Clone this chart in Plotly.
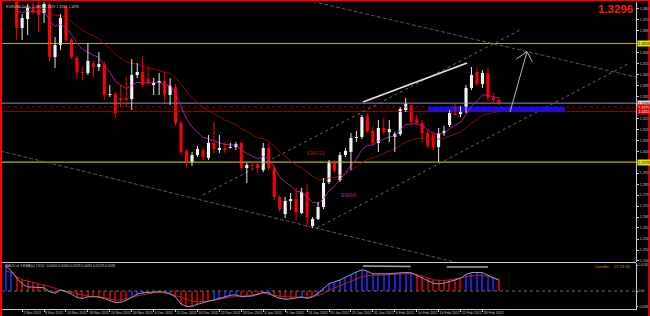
import plotly.graph_objects as go

# ---------------- data ----------------
bar_idx = list(range(91))
opens = [1.4150, 1.4140, 1.3862, 1.3702, 1.3750, 1.3815, 1.3826, 1.3783, 1.3831, 1.3545,
         1.3610, 1.3815, 1.3637, 1.3540, 1.3464, 1.3459, 1.3513, 1.3491, 1.3507, 1.3340,
         1.3345, 1.3324, 1.3324, 1.3318, 1.3448, 1.3464, 1.3426, 1.3399, 1.3405, 1.3416,
         1.3340, 1.3383, 1.3189, 1.3038, 1.2978, 1.3016, 1.3043, 1.3000, 1.3081, 1.3046,
         1.3054, 1.3054, 1.3059, 1.3081, 1.2946, 1.2962, 1.2967, 1.2935, 1.3054, 1.2946,
         1.2789, 1.2697, 1.2768, 1.2778, 1.2703, 1.2816, 1.2633, 1.2670, 1.2735, 1.2870,
         1.2973, 1.2881, 1.3016, 1.3032, 1.3108, 1.3113, 1.3227, 1.3146, 1.3081, 1.3162,
         1.3140, 1.3113, 1.3129, 1.3259, 1.3286, 1.3210, 1.3189, 1.3135, 1.3124, 1.3059,
         1.3135, 1.3178, 1.3243, 1.3237, 1.3248, 1.3378, 1.3464, 1.3399, 1.3459, 1.3324,
         1.3313]
highs = [1.4175, 1.4150, 1.3870, 1.3777, 1.3831, 1.3842, 1.3848, 1.3870, 1.3860, 1.3653,
         1.3777, 1.3821, 1.3648, 1.3551, 1.3491, 1.3621, 1.3524, 1.3572, 1.3518, 1.3394,
         1.3356, 1.3394, 1.3437, 1.3534, 1.3513, 1.3551, 1.3491, 1.3432, 1.3459, 1.3464,
         1.3432, 1.3399, 1.3200, 1.3048, 1.3032, 1.3065, 1.3059, 1.3124, 1.3194, 1.3124,
         1.3086, 1.3081, 1.3086, 1.3086, 1.2973, 1.2978, 1.2978, 1.3081, 1.3081, 1.2962,
         1.2800, 1.2789, 1.2811, 1.2838, 1.2838, 1.2859, 1.2681, 1.2762, 1.2892, 1.2989,
         1.2989, 1.3032, 1.3054, 1.3135, 1.3146, 1.3232, 1.3243, 1.3167, 1.3205, 1.3216,
         1.3205, 1.3140, 1.3275, 1.3324, 1.3297, 1.3232, 1.3205, 1.3151, 1.3146, 1.3162,
         1.3173, 1.3259, 1.3297, 1.3281, 1.3394, 1.3491, 1.3480, 1.3475, 1.3486, 1.3351,
         1.3329]
lows = [1.4090, 1.3858, 1.3637, 1.3637, 1.3664, 1.3777, 1.3680, 1.3729, 1.3524, 1.3486,
        1.3583, 1.3626, 1.3534, 1.3426, 1.3421, 1.3448, 1.3437, 1.3470, 1.3313, 1.3329,
        1.3216, 1.3275, 1.3275, 1.3259, 1.3432, 1.3383, 1.3394, 1.3340, 1.3340, 1.3297,
        1.3286, 1.3173, 1.3016, 1.2951, 1.2957, 1.3005, 1.2989, 1.2989, 1.3027, 1.3027,
        1.3027, 1.3051, 1.3043, 1.2935, 1.2865, 1.2935, 1.2919, 1.2924, 1.2935, 1.2773,
        1.2708, 1.2676, 1.2719, 1.2665, 1.2697, 1.2627, 1.2622, 1.2665, 1.2724, 1.2859,
        1.2919, 1.2870, 1.3005, 1.2935, 1.3086, 1.3102, 1.3135, 1.3070, 1.3032, 1.3124,
        1.3086, 1.3032, 1.3119, 1.3248, 1.3183, 1.3178, 1.3086, 1.3054, 1.3043, 1.2978,
        1.3119, 1.3167, 1.3232, 1.3221, 1.3243, 1.3367, 1.3389, 1.3378, 1.3308, 1.3291,
        1.3286]
closes = [1.4140, 1.3862, 1.3702, 1.3756, 1.3815, 1.3788, 1.3772, 1.3831, 1.3545, 1.3610,
          1.3756, 1.3637, 1.3545, 1.3464, 1.3459, 1.3524, 1.3491, 1.3507, 1.3340, 1.3345,
          1.3243, 1.3316, 1.3313, 1.3448, 1.3464, 1.3394, 1.3405, 1.3405, 1.3416, 1.3345,
          1.3389, 1.3189, 1.3032, 1.2978, 1.3016, 1.3048, 1.3005, 1.3081, 1.3048, 1.3048,
          1.3043, 1.3059, 1.3075, 1.2946, 1.2962, 1.2957, 1.2946, 1.3054, 1.2946, 1.2789,
          1.2724, 1.2768, 1.2778, 1.2708, 1.2816, 1.2681, 1.2670, 1.2735, 1.2865, 1.2973,
          1.2930, 1.3016, 1.3038, 1.3108, 1.3113, 1.3221, 1.3146, 1.3081, 1.3162, 1.3140,
          1.3156, 1.3129, 1.3264, 1.3291, 1.3194, 1.3189, 1.3135, 1.3065, 1.3059, 1.3135,
          1.3146, 1.3243, 1.3235, 1.3254, 1.3378, 1.3448, 1.3399, 1.3459, 1.3324, 1.3313,
          1.3296]

macd_main = [0.01375, 0.0110, 0.00715, 0.00385, 0.00231, 0.00204, 0.00204, 0.00176, -0.00028, -0.00127,
             0.00055, -0.00028, -0.00165, -0.00358, -0.00413, -0.00314, -0.00314, -0.00341, -0.00413, -0.00523,
             -0.00638, -0.00622, -0.00512, -0.00347, -0.00165, -0.00099, -0.00066, -0.00039, -0.00039, -0.00061,
             -0.00154, -0.0033, -0.00715, -0.00858, -0.00836, -0.00732, -0.00633, -0.00561, -0.00495, -0.00413,
             -0.00336, -0.00237, -0.00209, -0.00314, -0.00292, -0.00275, -0.00182, -0.00072, -0.0011, -0.00292,
             -0.00402, -0.00451, -0.00429, -0.00363, -0.00325, -0.00402, -0.00325, -0.00121, 0.00165, 0.00402,
             0.00506, 0.00605, 0.00754, 0.00908, 0.01045, 0.01166, 0.01084, 0.00946, 0.00935, 0.00935,
             0.00946, 0.00979, 0.01007, 0.01018, 0.01001, 0.00869, 0.00737, 0.00572, 0.00424, 0.00391,
             0.0044, 0.00506, 0.00605, 0.0071, 0.00908, 0.01018, 0.01034, 0.01012, 0.00869, 0.00715,
             0.00589]
macd_signal = [0.01111, 0.01007, 0.00792, 0.00622, 0.00545, 0.00479, 0.00418, 0.00352, 0.00248, 0.00149,
               0.0005, -0.00017, -0.00072, -0.00143, -0.0022, -0.00281, -0.00297, -0.00308, -0.00374, -0.00446,
               -0.00495, -0.0049, -0.00435, -0.00363, -0.0027, -0.00198, -0.00138, -0.00094, -0.00094, -0.00094,
               -0.00165, -0.00242, -0.00336, -0.0044, -0.00561, -0.00589, -0.00589, -0.00556, -0.00506, -0.00446,
               -0.00385, -0.00341, -0.00308, -0.00292, -0.00275, -0.00226, -0.00176, -0.00127, -0.00187, -0.00248,
               -0.00286, -0.00314, -0.00336, -0.00352, -0.00363, -0.00363, -0.00303, -0.00242, -0.00127, 0.00028,
               0.00176, 0.00286, 0.00396, 0.00528, 0.0066, 0.00792, 0.00847, 0.0088, 0.0088, 0.0088,
               0.00891, 0.00913, 0.00935, 0.00957, 0.00963, 0.00913, 0.00836, 0.00726, 0.00611, 0.00583,
               0.00572, 0.00616, 0.0066, 0.00715, 0.00781, 0.00831, 0.0088, 0.00858, 0.00814, 0.00699,
               0.00649]

date_tick_idx = [-1, 3, 7, 11, 15, 19, 23, 27, 31, 35, 39, 43, 47, 51, 55, 59, 63, 67, 71, 75, 79, 83, 87]
date_tick_text = ["27 Oct 2011", "2 Nov 2011", "8 Nov 2011", "14 Nov 2011", "18 Nov 2011", "24 Nov 2011",
                  "30 Nov 2011", "6 Dec 2011", "12 Dec 2011", "16 Dec 2011", "22 Dec 2011", "28 Dec 2011",
                  "3 Jan 2012", "9 Jan 2012", "13 Jan 2012", "19 Jan 2012", "25 Jan 2012", "31 Jan 2012",
                  "6 Feb 2012", "10 Feb 2012", "16 Feb 2012", "22 Feb 2012", "28 Feb 2012"]
price_ticks = [1.2444, 1.2503, 1.2562, 1.2622, 1.2681, 1.2740, 1.2799, 1.2858, 1.2918,
               1.3036, 1.3095, 1.3154, 1.3214, 1.3332, 1.3391, 1.3450, 1.3510, 1.3569,
               1.3687, 1.3746, 1.3806]
macd_ticks = [0.0143, 0.0, -0.0085]
macd_tick_text = ["0.0143", "0.00", "-0.0085"]

ema8_seed = 1.3820
ema21_seed = 1.3830
ema_start = 2

# user-drawn objects (bar index, price)
lower_dash_x, lower_dash_y = [-1.04, 84.73], [1.3038, 1.2418]
upper_dash_x, upper_dash_y = [56.0, 115.02], [1.3845, 1.3437]
chan1_x, chan1_y = [36.0, 93.85], [1.2800, 1.3691]
chan2_x, chan2_y = [56.8, 113.92], [1.2622, 1.3513]
white_x, white_y = [65.2, 84.18], [1.3302, 1.3513]
arrow_x, arrow_y = [92.03, 95.13], [1.3248, 1.3574]
head_x, head_y = [93.12, 95.13, 96.09], [1.3533, 1.3574, 1.3520]
zone_x, zone_y = [77.06, 102.06], [1.32645, 1.32645]
level_yellow = [1.3618, 1.2978]
level_bid = 1.3296
level_red_dot = 1.3275
level_red = 1.3251
div1_x, div1_y = [65.2, 73.9], [0.01375, 0.0135]
div2_x, div2_y = [80.5, 88.0], [0.0132, 0.0132]

# ---------------- figure ----------------
X0, X1 = -0.675, 115.02
FONT = "Liberation Sans, Arial, sans-serif"


def ema(vals, period, seed, start):
    a = 2.0 / (period + 1)
    out = [None] * start
    prev = seed
    for v in vals[start:]:
        prev = prev + a * (v - prev)
        out.append(prev)
    return out


ema8 = ema(closes, 8, ema8_seed, ema_start)
ema21 = ema(closes, 21, ema21_seed, ema_start)

fig = go.Figure()

# horizontal levels
for lv in level_yellow:
    fig.add_trace(go.Scatter(x=[X0, X1], y=[lv, lv], mode="lines",
                             line=dict(color="#b4b400", width=1.2), hoverinfo="skip"))
fig.add_trace(go.Scatter(x=[X0, X1], y=[level_bid, level_bid], mode="lines",
                         line=dict(color="#8c96a0", width=1), hoverinfo="skip"))
fig.add_trace(go.Scatter(x=[X0, X1], y=[level_red_dot, level_red_dot], mode="lines",
                         line=dict(color="#a00000", width=1, dash="dot"), hoverinfo="skip"))
fig.add_trace(go.Scatter(x=[X0, X1], y=[level_red, level_red], mode="lines",
                         line=dict(color="#990000", width=1), hoverinfo="skip"))

# trend lines
fig.add_trace(go.Scatter(x=lower_dash_x, y=lower_dash_y, mode="lines",
                         line=dict(color="#5a5a5a", width=1, dash="4px,2px")))
fig.add_trace(go.Scatter(x=upper_dash_x, y=upper_dash_y, mode="lines",
                         line=dict(color="#5a5a5a", width=1, dash="4px,2px")))
fig.add_trace(go.Scatter(x=chan1_x, y=chan1_y, mode="lines",
                         line=dict(color="#6a6a6a", width=1, dash="dot")))
fig.add_trace(go.Scatter(x=chan2_x, y=chan2_y, mode="lines",
                         line=dict(color="#6a6a6a", width=1, dash="dot")))
fig.add_trace(go.Scatter(x=zone_x, y=zone_y, mode="lines",
                         line=dict(color="#0a10ff", width=4.5)))

# EMAs
fig.add_trace(go.Scatter(x=bar_idx, y=ema21, mode="lines", line=dict(color="#8b0a0a", width=1)))
fig.add_trace(go.Scatter(x=bar_idx, y=ema8, mode="lines", line=dict(color="#a020a0", width=1)))

# candles: wicks
for bull, col in ((True, "#e6e6e6"), (False, "#ff0000")):
    wx, wy = [], []
    for i, o, h, l, c in zip(bar_idx, opens, highs, lows, closes):
        if (c >= o) == bull:
            wx += [i, i, None]
            wy += [l, h, None]
    fig.add_trace(go.Scatter(x=wx, y=wy, mode="lines", line=dict(color=col, width=1)))

# candles: bodies
b_base, b_h, b_col = [], [], []
for o, c in zip(opens, closes):
    lo, hi = min(o, c), max(o, c)
    h = max(hi - lo, 0.0004)
    b_base.append(lo if hi - lo >= 0.0004 else (lo + hi) / 2 - 0.0002)
    b_h.append(h)
    b_col.append("#ffffff" if c >= o else "#ff0000")
fig.add_trace(go.Bar(x=bar_idx, y=b_h, base=b_base, width=0.56,
                     marker=dict(color=b_col, line=dict(width=0))))

# white trend line and arrow (drawn over candles)
fig.add_trace(go.Scatter(x=white_x, y=white_y, mode="lines", line=dict(color="#e8e8e8", width=1.5)))
fig.add_trace(go.Scatter(x=arrow_x, y=arrow_y, mode="lines", line=dict(color="#b8b8b8", width=1)))
fig.add_trace(go.Scatter(x=head_x, y=head_y, mode="lines", line=dict(color="#b8b8b8", width=1)))

# ---------------- MACD panel ----------------
hist, hcol = [], []
for m, s in zip(macd_main, macd_signal):
    v = m if (abs(m) >= abs(s) or m * s < 0) else s
    hist.append(v)
    hcol.append("#1f1fd0" if m > s else "#b00000")
fig.add_trace(go.Scatter(x=[X0, X1], y=[0, 0], mode="lines", yaxis="y2",
                         line=dict(color="#707070", width=1, dash="dot")))
fig.add_trace(go.Bar(x=bar_idx, y=hist, width=0.22, yaxis="y2",
                     marker=dict(color=hcol, line=dict(width=0))))
fig.add_trace(go.Scatter(x=bar_idx, y=macd_signal, mode="lines", yaxis="y2",
                         line=dict(color="#b82020", width=1)))
fig.add_trace(go.Scatter(x=bar_idx, y=macd_main, mode="lines", yaxis="y2",
                         line=dict(color="#8ca0c0", width=1)))
fig.add_trace(go.Scatter(x=div1_x, y=div1_y, mode="lines", yaxis="y2",
                         line=dict(color="#a8a8a8", width=1.5)))
fig.add_trace(go.Scatter(x=div2_x, y=div2_y, mode="lines", yaxis="y2",
                         line=dict(color="#a8a8a8", width=1.5)))


def px(xp):
    return (xp - 2) / 634.0


def py(yp):
    return (309 - yp) / 307.0


annotations = [
    dict(x=px(4), y=py(7), text="EURUSD,Daily  1.3313 1.3329 1.3286 1.3296", showarrow=False,
         xanchor="left", yanchor="middle", font=dict(size=3.6, color="#c8c8c8", family=FONT)),
    dict(x=px(635), y=py(8.5), text="<b>1.3296</b>", showarrow=False, xanchor="right", yanchor="middle",
         font=dict(size=11.5, color="#ff1a1a", family=FONT)),
    dict(x=px(305), y=py(153), text="EMA21", showarrow=False, xanchor="left", yanchor="middle",
         font=dict(size=5.5, color="#b01010", family=FONT)),
    dict(x=px(339), y=py(195), text="EMA8", showarrow=False, xanchor="left", yanchor="middle",
         font=dict(size=5.5, color="#a020a0", family=FONT)),
    dict(x=px(3), y=py(266), text="MACD of 3 EMA(s) 13,50  0.0000 0.0000 0.0129 0.0081 0.0129 0.0081",
         showarrow=False, xanchor="left", yanchor="middle",
         font=dict(size=3.5, color="#c8c8c8", family=FONT)),
    dict(x=px(633), y=py(266), text="Candle:   17:23:30", showarrow=False, xanchor="right",
         yanchor="middle", font=dict(size=4.3, color="#d08a10", family=FONT)),
]
for lv in level_yellow:
    annotations.append(dict(x=1.0, y=lv, xref="paper", yref="y", text="%.4f" % lv, showarrow=False,
                            xanchor="left", yanchor="middle", xshift=1, bgcolor="#e6e600", borderpad=0.6,
                            font=dict(size=3.6, color="#000000", family=FONT)))
annotations.append(dict(x=1.0, y=level_bid, xref="paper", yref="y", text="%.4f" % level_bid, showarrow=False,
                        xanchor="left", yanchor="middle", xshift=1, bgcolor="#d8d8d8", borderpad=0.6,
                        font=dict(size=3.6, color="#000000", family=FONT)))
for lv in (level_red_dot, level_red):
    annotations.append(dict(x=1.0, y=lv, xref="paper", yref="y", text="%.4f" % lv, showarrow=False,
                            xanchor="left", yanchor="middle", xshift=1, bgcolor="#e00000", borderpad=0.6,
                            font=dict(size=3.6, color="#ffffff", family=FONT)))
for a in annotations:
    a.setdefault("xref", "paper")
    a.setdefault("yref", "paper")

shapes = [
    dict(type="line", xref="paper", yref="paper", x0=0, x1=1, y0=py(262.5), y1=py(262.5),
         line=dict(color="#d0d0d0", width=1)),
    dict(type="line", xref="paper", yref="paper", x0=px(1), x1=px(1), y0=py(316), y1=py(0),
         line=dict(color="#ff0000", width=2)),
    dict(type="line", xref="paper", yref="paper", x0=px(0), x1=px(650), y0=py(0.6), y1=py(0.6),
         line=dict(color="#ff0000", width=1.5)),
    dict(type="line", xref="paper", yref="paper", x0=px(649), x1=px(649), y0=py(316), y1=py(0),
         line=dict(color="#ff0000", width=1.6)),
]

fig.update_layout(
    width=650, height=316,
    margin=dict(l=2, r=14, t=2, b=7, autoexpand=False),
    paper_bgcolor="#000000", plot_bgcolor="#000000",
    showlegend=False, hovermode=False, barmode="overlay",
    font=dict(family=FONT, color="#c8c8c8"),
    xaxis=dict(range=[X0, X1], anchor="y2", showgrid=False, zeroline=False, automargin=False,
               tickvals=date_tick_idx, ticktext=date_tick_text, ticklabelposition="outside right",
               tickangle=0, tickfont=dict(size=3.6, color="#c8c8c8"), ticks="outside", ticklen=2,
               tickcolor="#c8c8c8", showline=True, linecolor="#c8c8c8", linewidth=1),
    yaxis=dict(domain=[py(262), 1], range=[1.24382, 1.38422], side="right", anchor="x",
               showgrid=False, zeroline=False, automargin=False, tickvals=price_ticks, tickformat=".4f",
               tickfont=dict(size=3.6, color="#c8c8c8"), ticks="outside", ticklen=2,
               tickcolor="#c8c8c8", showline=True, linecolor="#c8c8c8", linewidth=1),
    yaxis2=dict(domain=[0, py(263)], range=[-0.0099, 0.0154], side="right", anchor="x",
                showgrid=False, zeroline=False, automargin=False, tickvals=macd_ticks,
                ticktext=macd_tick_text,
                tickfont=dict(size=3.0, color="#c8c8c8"), ticks="outside", ticklen=1,
                tickcolor="#c8c8c8", showline=True, linecolor="#c8c8c8", linewidth=1),
    annotations=annotations,
    shapes=shapes,
)

fig.write_html("out.html")
